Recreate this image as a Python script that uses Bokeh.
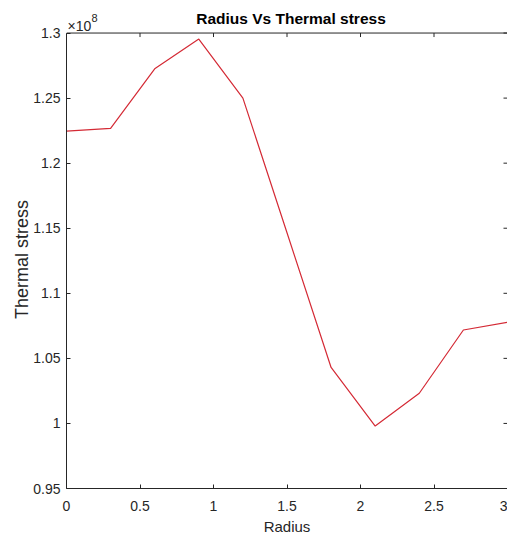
import math
from bokeh.plotting import figure
from bokeh.models import Range1d, LinearAxis, FixedTicker, Label, Span
from bokeh.embed import file_html
from bokeh.resources import INLINE

# ---- data (stress in units of 1e8) ----
radius = [0.0, 0.3, 0.6, 0.9, 1.2, 1.5, 1.8, 2.1, 2.4, 2.7, 3.0]
stress_e8 = [1.2246, 1.2267, 1.2725, 1.2954, 1.2500, 1.1465, 1.0430, 0.9980, 1.0232, 1.0718, 1.0778]

x_ticks = [0, 0.5, 1, 1.5, 2, 2.5, 3]
x_tick_labels = ["0", "0.5", "1", "1.5", "2", "2.5", "3"]
y_ticks = [0.95, 1.0, 1.05, 1.1, 1.15, 1.2, 1.25, 1.3]
y_tick_labels = ["0.95", "1", "1.05", "1.1", "1.15", "1.2", "1.25", "1.3"]

title_text = "Radius Vs Thermal stress"
x_label = "Radius"
y_label = "Thermal stress"
exp_base = "\u00d710"
exp_power = "8"

FONT = "Liberation Sans"
AX = "#262626"

x0, x1 = x_ticks[0], x_ticks[-1]
y0, y1 = y_ticks[0], y_ticks[-1]
top_pad = 0.025  # room above the axes box for the title, inside the frame

xr = Range1d(x0, x1)
yr = Range1d(y0, y1 + top_pad)

p = figure(width=507, height=537, x_range=xr, y_range=yr,
           output_backend="svg", toolbar_location=None,
           min_border_left=66, min_border_top=0, min_border_right=0,
           min_border_bottom=49, x_axis_location=None, y_axis_location=None)
p.background_fill_color = "white"
p.border_fill_color = "white"
p.outline_line_color = None
p.xgrid.visible = False
p.ygrid.visible = False

def style(ax):
    ax.major_tick_in = 4
    ax.major_tick_out = 0
    ax.minor_tick_line_color = None
    ax.axis_line_color = AX
    ax.axis_line_width = 1
    ax.major_tick_line_color = AX
    ax.major_label_text_color = AX
    ax.major_label_text_font = FONT
    ax.major_label_text_font_size = "14px"
    ax.axis_label_text_font = FONT
    ax.axis_label_text_font_style = "normal"
    ax.axis_label_text_color = AX

xb = LinearAxis(axis_label=x_label, ticker=FixedTicker(ticks=x_ticks),
                major_label_overrides=dict(zip(x_ticks, x_tick_labels)))
style(xb)
xb.major_label_standoff = 12
xb.axis_label_text_font_size = "15px"
xb.axis_label_standoff = 4
p.add_layout(xb, "below")

# trailing no-break spaces re-centre the label on the axes box (the frame also holds the title strip)
yl = LinearAxis(axis_label=y_label + "\u00a0" * 6, ticker=FixedTicker(ticks=y_ticks),
                major_label_overrides=dict(zip(y_ticks, y_tick_labels)),
                bounds=(y0, y1))
style(yl)
yl.major_label_standoff = 6
yl.axis_label_text_font_size = "18px"
yl.axis_label_standoff = -2
p.add_layout(yl, "left")

# right edge of the box (line only)
yrax = LinearAxis(ticker=FixedTicker(ticks=[]), bounds=(y0, y1))
style(yrax)
yrax.major_label_standoff = 0
p.add_layout(yrax, "right")

# top edge of the box
p.add_layout(Span(location=y1, dimension="width", line_color=AX, line_width=1))

# inward ticks on the top and right edges
p.ray(x=x_ticks, y=[y1] * len(x_ticks), length=4, length_units="screen",
      angle=-math.pi / 2, line_color=AX, line_width=1)
p.ray(x=[x1] * len(y_ticks), y=y_ticks, length=4, length_units="screen",
      angle=math.pi, line_color=AX, line_width=1)

p.line(radius, stress_e8, line_color="#d42a35", line_width=1.2)

p.add_layout(Label(x=(x0 + x1) / 2, y=y1, x_offset=4, y_offset=15,
                   text=title_text, text_align="center", text_baseline="alphabetic",
                   text_font=FONT, text_font_style="bold", text_font_size="15.5px",
                   text_color="black"))
p.add_layout(Label(x=x0, y=y1, x_offset=1, y_offset=7,
                   text=exp_base, text_align="left", text_baseline="alphabetic",
                   text_font=FONT, text_font_size="14px", text_color=AX))
p.add_layout(Label(x=x0, y=y1, x_offset=25, y_offset=15,
                   text=exp_power, text_align="left", text_baseline="alphabetic",
                   text_font=FONT, text_font_size="11px", text_color=AX))

open("out.html", "w").write(file_html(p, INLINE))
